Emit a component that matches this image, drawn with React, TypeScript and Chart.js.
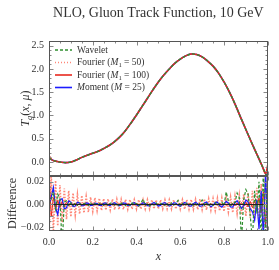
import React, { useEffect, useRef } from "react";
import { Chart, registerables } from "chart.js";

Chart.register(...registerables);

const FONT = "'Liberation Serif', 'Times New Roman', serif";

const titleText = "NLO, Gluon Track Function, 10 GeV";
const seriesLabels = ["Wavelet", "Fourier (M₁ = 50)", "Fourier (M₁ = 100)", "Moment (M = 25)"];
const diffTitle = "Difference";
const xTitle = "x";

const xTicks = [0, 0.2, 0.4, 0.6, 0.8, 1.0];
const yTicksMain = [0, 0.5, 1.0, 1.5, 2.0, 2.5];
const yTicksDiff = [-0.02, -0.01, 0, 0.01, 0.02];

// main panel: track function T_g(x, mu)
const tgX = [0, 0.0125, 0.025, 0.0375, 0.05, 0.075, 0.1, 0.125, 0.15, 0.175, 0.2, 0.225, 0.25, 0.275, 0.3, 0.325, 0.35, 0.375, 0.4, 0.425, 0.45, 0.475, 0.5, 0.525, 0.55, 0.575, 0.6, 0.625, 0.65, 0.675, 0.7, 0.725, 0.75, 0.775, 0.8, 0.825, 0.85, 0.875, 0.9, 0.925, 0.95, 0.975, 0.99, 1.0];
const tgY = [0.08, 0.05, 0.025, 0.01, 0.0, -0.012, 0.0, 0.045, 0.10, 0.145, 0.19, 0.23, 0.29, 0.355, 0.44, 0.545, 0.68, 0.84, 1.01, 1.19, 1.37, 1.55, 1.72, 1.87, 2.00, 2.12, 2.21, 2.28, 2.32, 2.31, 2.26, 2.17, 2.06, 1.91, 1.72, 1.50, 1.25, 0.97, 0.70, 0.43, 0.17, -0.09, -0.25, -0.32];
// Fourier reconstructions deviate at the end points: [value at x=0, value at x=1]
const fourier50Ends = [0.12, -0.12];
const fourier100Ends = [0.14, -0.06];

// difference panel
const diffX = [0, 0.01, 0.02, 0.03, 0.04, 0.05, 0.06, 0.07, 0.08, 0.09, 0.1, 0.11, 0.12, 0.13, 0.14, 0.15, 0.16, 0.17, 0.18, 0.19, 0.2, 0.21, 0.22, 0.23, 0.24, 0.25, 0.26, 0.27, 0.28, 0.29, 0.3, 0.31, 0.32, 0.33, 0.34, 0.35, 0.36, 0.37, 0.38, 0.39, 0.4, 0.41, 0.42, 0.43, 0.44, 0.45, 0.46, 0.47, 0.48, 0.49, 0.5, 0.51, 0.52, 0.53, 0.54, 0.55, 0.56, 0.57, 0.58, 0.59, 0.6, 0.61, 0.62, 0.63, 0.64, 0.65, 0.66, 0.67, 0.68, 0.69, 0.7, 0.71, 0.72, 0.73, 0.74, 0.75, 0.76, 0.77, 0.78, 0.79, 0.8, 0.81, 0.82, 0.83, 0.84, 0.85, 0.86, 0.87, 0.88, 0.89, 0.9, 0.91, 0.92, 0.93, 0.94, 0.95, 0.96, 0.97, 0.98, 0.99, 1.0];

const diffWavelet = [0.0, 0.004, 0.011, -0.004, 0.009, 0.005, -0.036, 0.002, 0.003, -0.0015, 0.0012, -0.001, 0.0015, -0.0008, 0.001, -0.0012, 0.0006, 0.0009, -0.001, 0.0012, -0.0006, 0.0008, -0.0011, 0.0005, 0.0013, -0.0009, 0.0007, -0.0012, 0.001, 0.0016, -0.0008, 0.0006, -0.0014, 0.0009, 0.0012, -0.0011, 0.0004, -0.001, 0.0013, -0.0006, 0.0008, -0.0015, 0.0011, 0.0046, -0.0009, 0.0006, -0.0013, 0.001, -0.0007, 0.0012, -0.0011, 0.0005, 0.0014, -0.001, 0.0007, -0.0016, 0.0012, -0.0005, 0.0009, 0.0035, -0.0012, 0.0008, -0.0014, 0.0011, -0.0006, 0.0015, -0.0012, 0.0007, -0.0016, 0.0012, 0.0038, -0.0011, 0.0009, -0.0017, 0.0013, -0.0008, 0.0016, -0.0014, 0.001, 0.002, -0.0012, 0.011, 0.003, -0.002, 0.002, 0.0015, 0.010, 0.006, -0.032, 0.004, 0.013, 0.009, -0.01, -0.032, 0.012, -0.008, 0.02, -0.032, 0.03, -0.03, 0.03];

const diffFourier50 = [-0.030, 0.028, -0.024, 0.021, -0.019, 0.017, -0.016, 0.014, -0.013, 0.012, -0.011, 0.010, -0.0095, 0.0088, -0.0085, 0.0078, -0.0076, 0.0070, -0.0068, 0.0064, -0.0062, 0.0058, -0.0058, 0.0054, -0.0054, 0.0050, -0.0051, 0.0048, -0.0049, 0.0046, -0.0047, 0.0045, -0.0046, 0.0044, -0.0045, 0.0043, -0.0044, 0.0042, -0.0043, 0.0041, -0.0042, 0.0041, -0.0042, 0.0040, -0.0041, 0.0040, -0.0041, 0.0040, -0.0040, 0.0039, -0.0040, 0.0039, -0.0040, 0.0039, -0.0040, 0.0040, -0.0041, 0.0040, -0.0041, 0.0041, -0.0042, 0.0041, -0.0043, 0.0042, -0.0044, 0.0043, -0.0045, 0.0044, -0.0046, 0.0046, -0.0048, 0.0047, -0.0050, 0.0049, -0.0052, 0.0051, -0.0055, 0.0054, -0.0058, 0.0057, -0.0062, 0.0061, -0.0067, 0.0066, -0.0073, 0.0072, -0.0081, 0.0080, -0.0091, 0.0090, -0.0104, 0.0103, -0.0120, 0.0120, -0.0142, 0.0145, -0.0172, 0.0180, -0.0220, 0.0250, -0.0300];

const diffFourier100 = [0.030, -0.011, 0.006, -0.0045, 0.0035, -0.003, 0.0025, -0.0021, 0.0018, -0.0016, 0.0014, -0.0013, 0.0012, -0.0011, 0.001, -0.001, 0.0009, -0.0009, 0.0008, -0.0008, 0.0008, -0.0007, 0.0007, -0.0007, 0.0007, -0.0007, 0.0006, -0.0006, 0.0006, -0.0006, 0.0006, -0.0006, 0.0006, -0.0006, 0.0006, -0.0005, 0.0005, -0.0005, 0.0005, -0.0005, 0.0005, -0.0005, 0.0005, -0.0005, 0.0005, -0.0005, 0.0005, -0.0005, 0.0005, -0.0005, 0.0005, -0.0005, 0.0005, -0.0005, 0.0005, -0.0005, 0.0005, -0.0005, 0.0005, -0.0005, 0.0005, -0.0005, 0.0005, -0.0006, 0.0006, -0.0006, 0.0006, -0.0006, 0.0006, -0.0006, 0.0006, -0.0006, 0.0006, -0.0007, 0.0007, -0.0007, 0.0007, -0.0007, 0.0007, -0.0008, 0.0008, -0.0009, 0.0009, -0.001, 0.0011, -0.0012, 0.0013, -0.0014, 0.0016, -0.0018, 0.002, -0.0023, 0.0026, -0.003, 0.0036, -0.0044, 0.0056, -0.0075, 0.011, -0.018, 0.03];

const diffMoment = [0.0, 0.006, 0.015, -0.003, -0.009, 0.004, 0.005, -0.004, -0.003, 0.003, 0.002, -0.002, -0.0015, 0.0018, 0.0012, -0.0014, -0.001, 0.0013, 0.0009, -0.0012, -0.0008, 0.0011, 0.0008, -0.001, -0.0009, 0.001, 0.0012, -0.0008, -0.0012, 0.0006, 0.0014, 0.0002, -0.0013, -0.0006, 0.0012, 0.0009, -0.001, -0.0012, 0.0007, 0.0014, -0.0003, -0.0015, -0.0002, 0.0014, 0.0008, -0.0011, -0.0013, 0.0005, 0.0016, 0.0003, -0.0015, -0.0009, 0.001, 0.0015, -0.0002, -0.0016, -0.0006, 0.0013, 0.0012, -0.0008, -0.0017, 0.0001, 0.0017, 0.0008, -0.0013, -0.0015, 0.0006, 0.0019, 0.0004, -0.0018, -0.0012, 0.0012, 0.002, -0.0003, -0.0021, -0.0008, 0.0018, 0.0019, -0.001, -0.0025, 0.0, 0.0026, 0.0012, -0.0022, -0.0024, 0.0014, 0.0032, -0.0002, -0.0036, -0.001, 0.0038, 0.0022, -0.004, -0.0065, -0.014, 0.004, -0.022, 0.012, -0.03, 0.03, -0.03];

const GREEN = "#2f8f2f";
const RED_DOT = "rgba(255, 95, 75, 0.75)";
const RED = "#e8281e";
const BLUE = "#1c1cff";

const fmt = (v: number, d: number) => (v < 0 ? "\u2212" : "") + Math.abs(v).toFixed(d);

type Part = { t: string; italic?: boolean; sub?: boolean };

const drawRich = (ctx: CanvasRenderingContext2D, parts: Part[], x: number, y: number, size: number, align: "left" | "center") => {
  let w = 0;
  const fonts = parts.map((p) => {
    const sz = p.sub ? size * 0.7 : size;
    const f = `${p.italic ? "italic " : ""}${sz}px ${FONT}`;
    ctx.font = f;
    const pw = ctx.measureText(p.t).width;
    w += pw;
    return { f, pw };
  });
  let cx = align === "center" ? x - w / 2 : x;
  ctx.textAlign = "left";
  ctx.textBaseline = "middle";
  parts.forEach((p, i) => {
    ctx.font = fonts[i].f;
    ctx.fillText(p.t, cx, y + (p.sub ? size * 0.3 : 0));
    cx += fonts[i].pw;
  });
};

const parseLabel = (s: string): Part[] => {
  const out: { t: string; s: string }[] = [];
  for (const ch of s) {
    const st = ch === "M" ? "i" : ch === "\u2081" ? "s" : "n";
    const t = ch === "\u2081" ? "1" : ch;
    const last = out[out.length - 1];
    if (last && last.s === st) last.t += t;
    else out.push({ t, s: st });
  }
  return out.map((p) => ({ t: p.t, italic: p.s === "i", sub: p.s === "s" }));
};

const yTitleParts: Part[] = [
  { t: "T", italic: true },
  { t: "g", italic: true, sub: true },
  { t: "(" },
  { t: "x", italic: true },
  { t: ", " },
  { t: "\u03bc", italic: true },
  { t: ")" },
];

const decor = {
  id: "decor",
  afterDatasetsDraw(chart: any) {
    const ctx = chart.ctx as CanvasRenderingContext2D;
    const ca = chart.chartArea;
    const yd = chart.scales.yd;
    const y0 = Math.round(yd.getPixelForValue(0)) + 0.5;
    ctx.save();
    ctx.strokeStyle = "#222";
    ctx.lineWidth = 1;
    ctx.beginPath();
    ctx.moveTo(ca.left, y0);
    ctx.lineTo(ca.right, y0);
    ctx.stroke();
    ctx.restore();
  },
  afterDraw(chart: any) {
    const ctx = chart.ctx as CanvasRenderingContext2D;
    const ca = chart.chartArea;
    const xs = chart.scales.x;
    const ym = chart.scales.y;
    const yd = chart.scales.yd;
    ctx.save();
    const L = Math.round(ca.left) + 0.5;
    const R = Math.round(ca.right) - 0.5;

    // ticks
    ctx.strokeStyle = "#888";
    ctx.lineWidth = 1;
    const tick = (x1: number, y1: number, x2: number, y2: number) => {
      ctx.beginPath();
      ctx.moveTo(x1, y1);
      ctx.lineTo(x2, y2);
      ctx.stroke();
    };
    for (const s of [ym, yd]) {
      const T = Math.round(s.top) + 0.5;
      const B = Math.round(s.bottom) - 0.5;
      for (let k = 0; k <= 20; k++) {
        const v = k * 0.05;
        const px = Math.round(xs.getPixelForValue(v)) + 0.5;
        const len = k % 4 === 0 ? 4 : 2;
        tick(px, B, px, B - len);
        tick(px, T, px, T + len);
      }
    }
    const yTickSet = [
      { s: ym, lo: -0.3, hi: 2.6, step: 0.1, major: 5 },
      { s: yd, lo: -0.02, hi: 0.025, step: 0.005, major: 2 },
    ];
    for (const g of yTickSet) {
      const n0 = Math.ceil(g.lo / g.step - 1e-6);
      const n1 = Math.floor(g.hi / g.step + 1e-6);
      for (let k = n0; k <= n1; k++) {
        const v = k * g.step;
        const py = Math.round(g.s.getPixelForValue(v)) + 0.5;
        if (py < g.s.top + 1 || py > g.s.bottom - 1) continue;
        const len = k % g.major === 0 ? 4 : 2;
        tick(L, py, L + len, py);
        tick(R, py, R - len, py);
      }
    }

    // frames
    ctx.strokeStyle = "#555";
    ctx.lineWidth = 1;
    for (const s of [ym, yd]) {
      const T = Math.round(s.top) + 0.5;
      const B = Math.round(s.bottom) - 0.5;
      ctx.strokeRect(L, T, R - L, B - T);
    }

    // title
    ctx.fillStyle = "#333";
    ctx.font = `14px ${FONT}`;
    ctx.textAlign = "center";
    ctx.textBaseline = "middle";
    ctx.fillText(titleText, (ca.left + ca.right) / 2, 13);

    // axis titles
    ctx.save();
    ctx.translate(26, (ym.top + ym.bottom) / 2);
    ctx.rotate(-Math.PI / 2);
    drawRich(ctx, yTitleParts, 0, 0, 12, "center");
    ctx.restore();

    ctx.save();
    ctx.translate(13, (yd.top + yd.bottom) / 2);
    ctx.rotate(-Math.PI / 2);
    drawRich(ctx, [{ t: diffTitle }], 0, 0, 12, "center");
    ctx.restore();

    drawRich(ctx, [{ t: xTitle, italic: true }], (ca.left + ca.right) / 2, 257, 12, "center");

    // legend
    const rows = [50, 62.5, 75, 87.5];
    for (let i = 0; i < 4; i++) {
      const ds = chart.data.datasets[i];
      const yy = rows[i];
      ctx.save();
      ctx.strokeStyle = ds.borderColor;
      ctx.lineWidth = ds.borderWidth;
      ctx.setLineDash(ds.borderDash || []);
      ctx.beginPath();
      ctx.moveTo(55, yy);
      ctx.lineTo(72, yy);
      ctx.stroke();
      ctx.restore();
      ctx.fillStyle = "#333";
      drawRich(ctx, parseLabel(ds.label), 77, yy, 9.5, "left");
    }
    ctx.restore();
  },
};

const pts = (xs: number[], ys: number[]) => xs.map((x, i) => ({ x, y: ys[i] }));
const withEnds = (xs: number[], ys: number[], ends: number[]) =>
  xs.map((x, i) => ({ x, y: i === 0 ? ends[0] : i === xs.length - 1 ? ends[1] : ys[i] }));

export default function App() {
  const ref = useRef<HTMLCanvasElement | null>(null);
  useEffect(() => {
    if (!ref.current) return;
    const base = { pointRadius: 0, fill: false, tension: 0.35 };
    const chart = new Chart(ref.current, {
      type: "line",
      data: {
        datasets: [
          { ...base, label: seriesLabels[0], data: pts(tgX, tgY), yAxisID: "y", borderColor: GREEN, borderWidth: 1.3, borderDash: [3, 2], order: 0 },
          { ...base, label: seriesLabels[1], data: withEnds(tgX, tgY, fourier50Ends), yAxisID: "y", borderColor: RED_DOT, borderWidth: 1.3, borderDash: [1, 2], order: 2 },
          { ...base, label: seriesLabels[2], data: withEnds(tgX, tgY, fourier100Ends), yAxisID: "y", borderColor: RED, borderWidth: 1.6, order: 1 },
          { ...base, label: seriesLabels[3], data: pts(tgX, tgY), yAxisID: "y", borderColor: BLUE, borderWidth: 1.6, order: 3 },
          { ...base, tension: 0, label: "dW", data: pts(diffX, diffWavelet), yAxisID: "yd", borderColor: GREEN, borderWidth: 1.2, borderDash: [3, 2], order: 0 },
          { ...base, tension: 0, label: "dF50", data: pts(diffX, diffFourier50), yAxisID: "yd", borderColor: RED_DOT, borderWidth: 1.6, borderDash: [1.5, 1.5], order: 3 },
          { ...base, tension: 0, label: "dF100", data: pts(diffX, diffFourier100), yAxisID: "yd", borderColor: RED, borderWidth: 1, order: 2 },
          { ...base, tension: 0, label: "dM", data: pts(diffX, diffMoment), yAxisID: "yd", borderColor: BLUE, borderWidth: 1.2, order: 1 },
        ],
      },
      options: {
        animation: false,
        responsive: false,
        maintainAspectRatio: false,
        layout: { padding: { top: 41, right: 11, left: 0, bottom: 0 } },
        plugins: { legend: { display: false }, title: { display: false }, tooltip: { enabled: false } },
        scales: {
          x: {
            type: "linear",
            min: 0,
            max: 1,
            grid: { display: false, drawTicks: false },
            border: { display: false },
            ticks: { padding: 5, color: "#333", font: { family: FONT, size: 10 }, maxRotation: 0, autoSkip: false, callback: (v: any) => fmt(Number(v), 1) },
            afterBuildTicks: (s: any) => { s.ticks = xTicks.map((v) => ({ value: v })); },
            afterFit: (s: any) => { s.height = 39; },
          },
          yd: {
            type: "linear",
            position: "left",
            stack: "panels",
            stackWeight: 55,
            min: -0.0235,
            max: 0.025,
            grid: { display: false, drawTicks: false },
            border: { display: false },
            ticks: { padding: 5, color: "#333", font: { family: FONT, size: 10 }, includeBounds: false, callback: (v: any) => fmt(Number(v), 2) },
            afterBuildTicks: (s: any) => { s.ticks = yTicksDiff.map((v) => ({ value: v })); },
            afterFit: (s: any) => { s.width = 49; },
          },
          y: {
            type: "linear",
            position: "left",
            stack: "panels",
            stackWeight: 135,
            min: -0.3,
            max: 2.6,
            grid: { display: false, drawTicks: false },
            border: { display: false },
            ticks: { padding: 5, color: "#333", font: { family: FONT, size: 10 }, includeBounds: false, callback: (v: any) => fmt(Number(v), 1) },
            afterBuildTicks: (s: any) => { s.ticks = yTicksMain.map((v) => ({ value: v })); },
            afterFit: (s: any) => { s.width = 49; },
          },
        },
      } as any,
      plugins: [decor],
    });
    return () => chart.destroy();
  }, []);
  return (
    <div style={{ position: "fixed", left: 0, top: 0, width: 279, height: 270, background: "#fff" }}>
      <canvas ref={ref} width={279} height={270} style={{ display: "block" }} />
    </div>
  );
}
